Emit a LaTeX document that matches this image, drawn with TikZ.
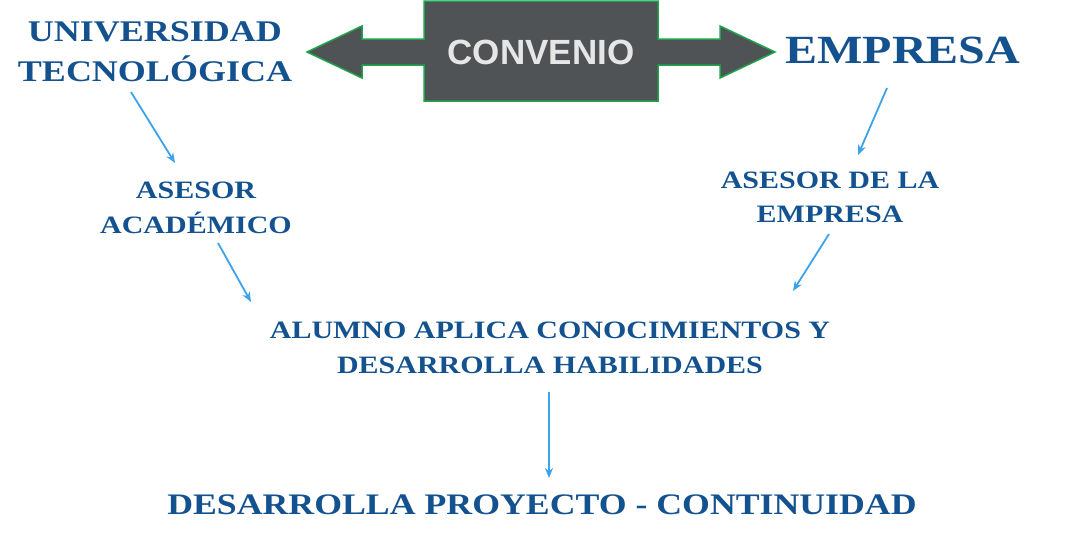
\documentclass[tikz,border=0pt]{standalone}
\usepackage{fontspec}
\setmainfont{Liberation Serif}
\newfontfamily\convfont{Liberation Sans}
\usetikzlibrary{arrows.meta}
\definecolor{txtblue}{HTML}{13528F}
\definecolor{arrblue}{HTML}{3AA3EC}
\definecolor{boxgray}{HTML}{505356}
\definecolor{boxgreen}{HTML}{1FA34A}
\begin{document}
\begin{tikzpicture}[x=1pt,y=-1pt]
\tikzstyle{every node}=[text=txtblue,font=\bfseries,align=center,inner sep=0pt,xscale=1.2];
\tikzstyle{link}=[draw=arrblue,line width=1.8pt,-{Stealth[length=10pt,width=8pt]}];
\useasboundingbox (0,0) rectangle (1068,546);
% double arrow
\draw[fill=boxgray,draw=boxgreen,line width=1.5pt]
  (424,1) -- (658,1) -- (658,39) -- (720,39) -- (720,26) -- (775,52) -- (720,78)
  -- (720,65) -- (658,65) -- (658,101) -- (424,101) -- (424,65) -- (362,65)
  -- (362,78) -- (307,52) -- (362,26) -- (362,39) -- (424,39) -- cycle;
\node[xscale=1/1.2,text={rgb,255:red,230;green,230;blue,230},font=\convfont\bfseries\fontsize{35}{35}\selectfont] (conv) at (541,52) {CONVENIO};

\node[font=\bfseries\fontsize{30}{40}\selectfont] (ut) at (155,52) {UNIVERSIDAD\\TECNOLÓGICA};
\node[font=\bfseries\fontsize{40}{40}\selectfont] (emp) at (903,50) {EMPRESA};
\node[font=\bfseries\fontsize{25}{35}\selectfont] (aa) at (196,208) {ASESOR\\ACADÉMICO};
\node[font=\bfseries\fontsize{25}{34}\selectfont] (ae) at (830,197) {ASESOR DE LA\\EMPRESA};
\node[font=\bfseries\fontsize{25}{35}\selectfont] (al) at (550,348) {ALUMNO APLICA CONOCIMIENTOS Y\\DESARROLLA HABILIDADES};
\node[font=\bfseries\fontsize{29.8}{30}\selectfont] (dp) at (542,505) {DESARROLLA PROYECTO - CONTINUIDAD};

\coordinate (u1) at (131,92);  \coordinate (u2) at (175,163);
\coordinate (e1) at (887,88);  \coordinate (e2) at (858,155);
\coordinate (a1) at (218,243); \coordinate (a2) at (251,302);
\coordinate (b1) at (829,234); \coordinate (b2) at (793,291);
\coordinate (c1) at (549,392); \coordinate (c2) at (549,478);
\foreach \s/\t in {u1/u2,e1/e2,a1/a2,b1/b2,c1/c2}
  \draw[link] (\s) -- (\t);
\end{tikzpicture}
\end{document}
